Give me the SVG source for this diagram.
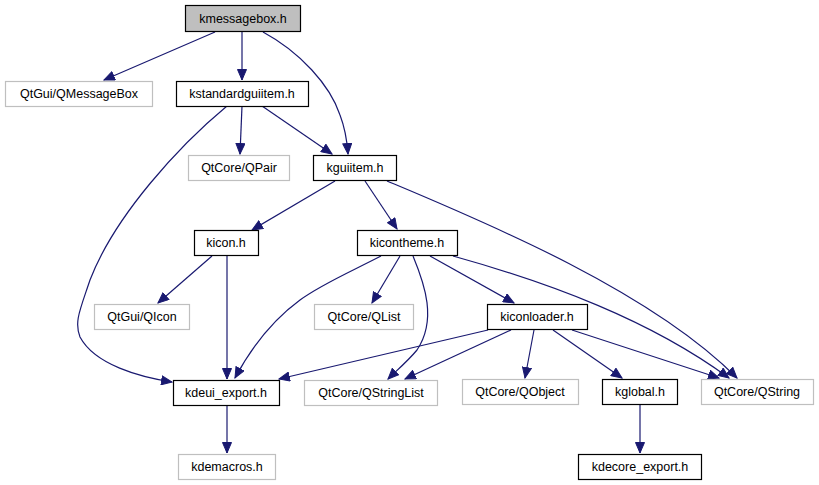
<svg xmlns="http://www.w3.org/2000/svg" width="819" height="485" viewBox="0 0 819 485">
<style>
.n rect{fill:#fff;stroke:#000;stroke-width:1.2}
.g rect{fill:#fff;stroke:#bfbfbf;stroke-width:1.2}
.m rect{fill:#bfbfbf;stroke:#000;stroke-width:1.2}
text{font-family:"Liberation Sans",Arial,sans-serif;font-size:12.5px;text-anchor:middle;fill:#000}
.e path{fill:none;stroke:#191970;stroke-width:1.2;marker-end:url(#a)}
</style>
<defs>
<marker id="a" markerUnits="userSpaceOnUse" markerWidth="12" markerHeight="10" refX="11" refY="5" orient="auto">
<path d="M0.5,0.5 L11,5 L0.5,9.5 z" fill="#191970" stroke="#191970"/>
</marker>
</defs>
<rect width="819" height="485" fill="#fff"/>
<g class="e" id="edges">
<path d="M215,32 L104,80"/>
<path d="M242,32 L242,80"/>
<path d="M263,32 C300,52 330,85 340,115 C345,128 347,140 348,154"/>
<path d="M242,106 L240,154"/>
<path d="M262,106 L332,154"/>
<path d="M227,106 C180,145 115,215 90,280 C80,310 74,322 80,337 C95,365 140,377 172,382"/>
<path d="M335,181 L252,230"/>
<path d="M365,181 L397,229"/>
<path d="M387,181 C480,220 650,290 737,378"/>
<path d="M212,256 L158,303"/>
<path d="M227,256 L227,379"/>
<path d="M381,256 C350,272 320,285 300,300 C270,322 250,350 235,378"/>
<path d="M400,256 L372,303"/>
<path d="M413,256 C425,285 437,320 417,350 C407,362 396,371 388,379"/>
<path d="M430,256 L514,303"/>
<path d="M453,256 C550,283 650,320 729,378"/>
<path d="M488,330 L279,379"/>
<path d="M511,330 L405,379"/>
<path d="M534,330 L525,378"/>
<path d="M553,330 L622,378"/>
<path d="M572,330 L719,378"/>
<path d="M227,405 L227,453"/>
<path d="M640,405 L640,453"/>
</g>
<g id="kmessagebox" class="m"><rect x="185.5" y="5.5" width="115" height="26"/><text x="243" y="23">kmessagebox.h</text></g>
<g id="qmessagebox" class="g"><rect x="5.5" y="81.5" width="147" height="25"/><text x="79" y="98">QtGui/QMessageBox</text></g>
<g id="kstandardguiitem" class="n"><rect x="176.5" y="81.5" width="132" height="25"/><text x="242" y="98">kstandardguiitem.h</text></g>
<g id="qpair" class="g"><rect x="188.5" y="155.5" width="101" height="25"/><text x="239" y="172">QtCore/QPair</text></g>
<g id="kguiitem" class="n"><rect x="313.5" y="155.5" width="83" height="25"/><text x="355" y="172">kguiitem.h</text></g>
<g id="kicon" class="n"><rect x="194.5" y="230.5" width="64" height="25"/><text x="226" y="247">kicon.h</text></g>
<g id="kicontheme" class="n"><rect x="357.5" y="230.5" width="100" height="25"/><text x="407" y="247">kicontheme.h</text></g>
<g id="qicon" class="g"><rect x="94.5" y="304.5" width="95" height="25"/><text x="142" y="321">QtGui/QIcon</text></g>
<g id="qlist" class="g"><rect x="314.5" y="304.5" width="99" height="25"/><text x="364" y="321">QtCore/QList</text></g>
<g id="kiconloader" class="n"><rect x="487.5" y="304.5" width="100" height="25"/><text x="537" y="321">kiconloader.h</text></g>
<g id="kdeui_export" class="n"><rect x="173.5" y="380.5" width="106" height="25"/><text x="226" y="397">kdeui_export.h</text></g>
<g id="qstringlist" class="g"><rect x="304.5" y="380.5" width="133" height="25"/><text x="371" y="397">QtCore/QStringList</text></g>
<g id="qobject" class="g"><rect x="462.5" y="379.5" width="116" height="25"/><text x="520" y="396">QtCore/QObject</text></g>
<g id="kglobal" class="n"><rect x="602.5" y="379.5" width="75" height="25"/><text x="640" y="396">kglobal.h</text></g>
<g id="qstring" class="g"><rect x="701.5" y="379.5" width="112" height="25"/><text x="757" y="396">QtCore/QString</text></g>
<g id="kdemacros" class="g"><rect x="178.5" y="454.5" width="97" height="25"/><text x="227" y="471">kdemacros.h</text></g>
<g id="kdecore_export" class="n"><rect x="578.5" y="454.5" width="123" height="25"/><text x="640" y="471">kdecore_export.h</text></g>
</svg>
